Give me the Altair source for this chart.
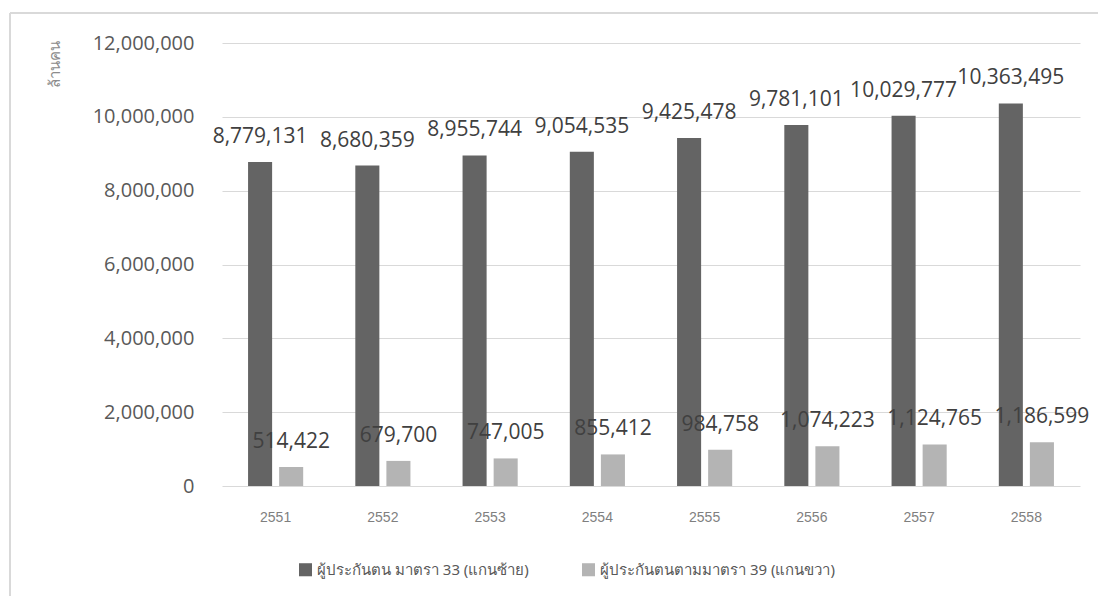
import altair as alt
import pandas as pd

years = ["2551", "2552", "2553", "2554", "2555", "2556", "2557", "2558"]
s33 = [8779131, 8680359, 8955744, 9054535, 9425478, 9781101, 10029777, 10363495]
s39 = [514422, 679700, 747005, 855412, 984758, 1074223, 1124765, 1186599]
series = ["ผู้ประกันตน มาตรา 33 (แกนซ้าย)", "ผู้ประกันตนตามมาตรา 39 (แกนขวา)"]
colors = ["#646464", "#b4b4b4"]
y_ticks = [0, 2000000, 4000000, 6000000, 8000000, 10000000, 12000000]

rows = []
for i, y in enumerate(years):
    rows.append({"year": y, "series": series[0], "value": s33[i]})
    rows.append({"year": y, "series": series[1], "value": s39[i]})
df = pd.DataFrame(rows)

W, H = 858, 443

x = alt.X("year:N", title=None, sort=years,
          scale=alt.Scale(paddingInner=0.486, paddingOuter=0.243),
          axis=alt.Axis(labelAngle=0, labelFont="Liberation Sans", labelFontSize=14,
                        labelColor="#7f7f7f", labelPadding=24, ticks=False, domain=False,
                        grid=False))
xo = alt.XOffset("series:N", sort=series, scale=alt.Scale(paddingInner=0.226))
y = alt.Y("value:Q", title="ล้านคน",
          scale=alt.Scale(domain=[0, 12000000], nice=False),
          axis=alt.Axis(values=y_ticks, format=",d", labelFont="Open Sans",
                        labelFontSize=20, labelColor="#595959", labelPadding=28,
                        ticks=False, domain=False, gridColor="#d9d9d9",
                        titleAngle=270, titleFontSize=15, titleColor="#8c8c8c",
                        titleFontWeight="normal", titleX=-168, titleY=21,
                        titleAlign="center", titleBaseline="middle"))

bars = alt.Chart(df).mark_bar().encode(
    x=x, xOffset=xo, y=y,
    color=alt.Color("series:N", sort=series, title=None,
                    scale=alt.Scale(domain=series, range=colors),
                    legend=alt.Legend(orient="none", direction="horizontal",
                                      legendX=76, legendY=519, symbolType="square",
                                      symbolSize=170, symbolStrokeWidth=0,
                                      labelFontSize=15, labelColor="#595959",
                                      labelFont="Noto Sans", columnPadding=52,
                                      labelLimit=400)),
)

labels = alt.Chart(df).mark_text(dy=-25, fontSize=21, font="Open Sans",
                                 color="#404040").encode(
    x=x, xOffset=xo, y=y,
    text=alt.Text("value:Q", format=",d"),
)

frame_top = alt.Chart(df).mark_rule(color="#d9d9d9", strokeWidth=2).encode(
    x=alt.value(-212), x2=alt.value(890), y=alt.value(-30))
frame_left = alt.Chart(df).mark_rule(color="#d9d9d9", strokeWidth=2).encode(
    x=alt.value(-212), y=alt.value(-30), y2=alt.value(570))

chart = alt.layer(bars, labels, frame_top, frame_left).properties(
    width=W, height=H,
    autosize=alt.AutoSizeParams(type="none"),
    padding={"left": 214, "top": 35, "right": 18, "bottom": 110},
).configure(background="white", view=alt.ViewConfig(stroke=None))

chart.save("out.html", embed_options={"renderer": "svg", "actions": False})
